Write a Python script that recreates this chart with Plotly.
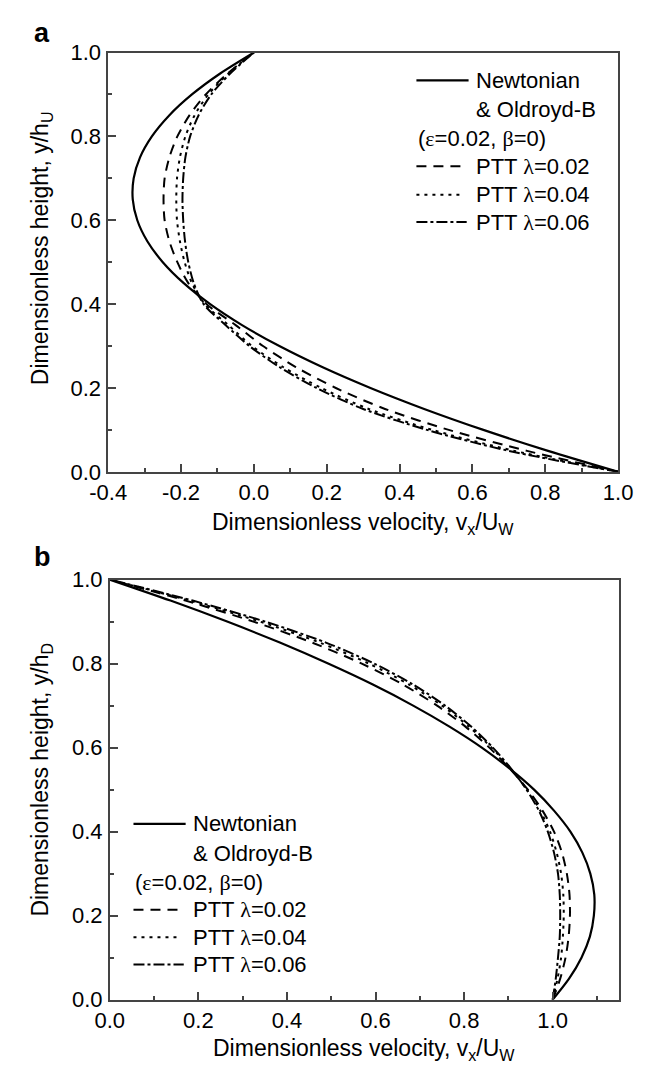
import plotly.graph_objects as go

FONT = "Liberation Sans, Arial, sans-serif"
W, H = 660, 1083

# ---------------- data ----------------
# dimensionless height (shared grid)
y_grid = [0.0, 0.05, 0.1, 0.15, 0.2, 0.25, 0.3, 0.35, 0.4, 0.45, 0.5,
          0.55, 0.6, 0.65, 0.7, 0.75, 0.8, 0.85, 0.9, 0.95, 1.0]

# panel a: upstream region (velocity v_x/U_W)
a_newtonian = [1.0, 0.8075, 0.63, 0.4675, 0.32, 0.1875, 0.07, -0.0325, -0.12, -0.1925, -0.25,
               -0.2925, -0.32, -0.3325, -0.33, -0.3125, -0.28, -0.2325, -0.17, -0.0925, 0.0]
a_ptt_002 = [1.0, 0.75, 0.535, 0.36, 0.225, 0.115, 0.025, -0.05, -0.13, -0.18, -0.21,
             -0.232, -0.245, -0.248, -0.245, -0.232, -0.21, -0.177, -0.132, -0.072, 0.0]
a_ptt_004 = [1.0, 0.715, 0.49, 0.315, 0.185, 0.08, -0.005, -0.07, -0.135, -0.17, -0.19,
             -0.203, -0.211, -0.213, -0.211, -0.203, -0.188, -0.163, -0.125, -0.07, 0.0]
a_ptt_006 = [1.0, 0.70, 0.475, 0.30, 0.172, 0.07, -0.012, -0.078, -0.138, -0.165, -0.18,
             -0.189, -0.194, -0.196, -0.194, -0.188, -0.175, -0.152, -0.117, -0.065, 0.0]

# panel b: downstream region
b_newtonian = [1.0, 1.037, 1.065, 1.084, 1.093, 1.094, 1.085, 1.067, 1.040, 1.003, 0.958,
               0.903, 0.840, 0.767, 0.685, 0.594, 0.493, 0.384, 0.265, 0.137, 0.0]
b_ptt_002 = [1.0, 1.017, 1.029, 1.036, 1.039, 1.038, 1.032, 1.021, 1.003, 0.977, 0.944,
             0.903, 0.857, 0.803, 0.739, 0.662, 0.569, 0.457, 0.324, 0.171, 0.0]
b_ptt_004 = [1.0, 1.011, 1.019, 1.023, 1.025, 1.024, 1.019, 1.009, 0.994, 0.972, 0.942,
             0.905, 0.862, 0.811, 0.750, 0.676, 0.585, 0.474, 0.339, 0.180, 0.0]
b_ptt_006 = [1.0, 1.007, 1.012, 1.016, 1.017, 1.016, 1.012, 1.003, 0.989, 0.969, 0.941,
             0.906, 0.865, 0.816, 0.757, 0.685, 0.597, 0.488, 0.351, 0.187, 0.0]

series_names = ["Newtonian & Oldroyd-B", "PTT λ=0.02", "PTT λ=0.04", "PTT λ=0.06"]
a_ticks_x = [-0.4, -0.2, 0.0, 0.2, 0.4, 0.6, 0.8, 1.0]
a_ticks_x_text = ["-0.4", "-0.2", "0.0", "0.2", "0.4", "0.6", "0.8", "1.0"]
b_ticks_x = [0.0, 0.2, 0.4, 0.6, 0.8, 1.0]
b_ticks_x_text = ["0.0", "0.2", "0.4", "0.6", "0.8", "1.0"]
y_ticks = [0.0, 0.2, 0.4, 0.6, 0.8, 1.0]
y_ticks_text = ["0.0", "0.2", "0.4", "0.6", "0.8", "1.0"]

# ---------------- styles ----------------
dashes = ["solid", "10px,7px", "3px,5px", "11px,3px,3px,3px"]
widths = [2.2, 2.0, 2.0, 2.0]

fig = go.Figure()
for vals, name, d, w in zip([a_newtonian, a_ptt_002, a_ptt_004, a_ptt_006], series_names, dashes, widths):
    fig.add_trace(go.Scatter(x=vals, y=y_grid, mode="lines", name=name,
                             line=dict(color="black", width=w, dash=d, shape="spline", smoothing=0.8),
                             xaxis="x", yaxis="y", showlegend=False))
for vals, name, d, w in zip([b_newtonian, b_ptt_002, b_ptt_004, b_ptt_006], series_names, dashes, widths):
    fig.add_trace(go.Scatter(x=vals, y=y_grid, mode="lines", name=name,
                             line=dict(color="black", width=w, dash=d, shape="spline", smoothing=0.8),
                             xaxis="x2", yaxis="y2", showlegend=False))


def px_x(p):
    return p / W


def px_y(p):
    return 1 - p / H


axcol = "#444444"
common = dict(showline=True, linecolor=axcol, linewidth=1.5, mirror=True,
              ticks="inside", ticklen=8, tickwidth=1.5, tickcolor=axcol,
              showgrid=False, zeroline=False,
              tickfont=dict(size=22, color="black", family=FONT),
              minor=dict(ticks="inside", ticklen=4, tickwidth=1.5, tickcolor=axcol,
                         dtick=0.1, showgrid=False))

fig.update_layout(
    width=W, height=H, margin=dict(l=0, r=0, t=0, b=0),
    paper_bgcolor="white", plot_bgcolor="white", showlegend=False,
    font=dict(family=FONT, color="black"),
    xaxis=dict(domain=[px_x(94), px_x(631.7)], range=[-0.4, 1.0], anchor="y",
               tickvals=a_ticks_x, ticktext=a_ticks_x_text, ticklabelstandoff=0, **common),
    yaxis=dict(domain=[px_y(470.7), px_y(41.5)], range=[0, 1], anchor="x",
               tickvals=y_ticks, ticktext=y_ticks_text, ticklabelstandoff=1, **common),
    xaxis2=dict(domain=[px_x(95.7), px_x(632.7)], range=[0, 1.15], anchor="y2",
                tickvals=b_ticks_x, ticktext=b_ticks_x_text, ticklabelstandoff=0, **common),
    yaxis2=dict(domain=[px_y(1011), px_y(581)], range=[0, 1], anchor="x2",
                tickvals=y_ticks, ticktext=y_ticks_text, ticklabelstandoff=1, **common),
)

ann = []


def text(x, y, s, size=22, xanchor="left", angle=0):
    ann.append(dict(x=px_x(x), y=px_y(y), xref="paper", yref="paper", text=s,
                    showarrow=False, xanchor=xanchor, yanchor="middle", textangle=angle,
                    font=dict(size=size, family=FONT, color="black")))


GREEK = '<span style="font-family:Liberation Serif;font-size:22px">%s</span>'

# axis titles
text(363, 524, "Dimensionless velocity, v<sub>x</sub>/U<sub>W</sub>", size=23, xanchor="center")
text(364, 1062, "Dimensionless velocity, v<sub>x</sub>/U<sub>W</sub>", size=23, xanchor="center")
text(24, 242, "Dimensionless height, y/h<sub>U</sub>", size=23, xanchor="center", angle=-90)
text(24, 786, "Dimensionless height, y/h<sub>D</sub>", size=23, xanchor="center", angle=-90)

# panel labels
text(14, 21, "<b>a</b>", size=27)
text(14, 558, "<b>b</b>", size=27)

shapes = []


def legend(x0, rows):
    # rows: y centres for: newtonian, oldroyd, eps, ptt1, ptt2, ptt3
    keys = [(rows[0], 0, 55), (rows[3], 1, 48), (rows[4], 2, 48), (rows[5], 3, 53)]
    for yy, k, ln in keys:
        shapes.append(dict(type="line", xref="paper", yref="paper",
                           x0=px_x(x0), x1=px_x(x0 + ln), y0=px_y(yy), y1=px_y(yy),
                           line=dict(color="black", width=widths[k], dash=dashes[k])))
    tx = x0 + 61
    text(tx, rows[0], "Newtonian")
    text(tx, rows[1], "&amp; Oldroyd-B")
    text(x0, rows[2], "(" + GREEK % "ε" + "=0.02, " + GREEK % "β" + "=0)")
    text(tx, rows[3], "PTT " + GREEK % "λ" + "=0.02")
    text(tx, rows[4], "PTT " + GREEK % "λ" + "=0.04")
    text(tx, rows[5], "PTT " + GREEK % "λ" + "=0.06")


legend(419, [70, 100, 130, 158, 187, 215])
legend(120.7, [831, 861, 891, 919, 947, 975])

fig.update_layout(annotations=ann, shapes=shapes)
fig.write_html("out.html")
